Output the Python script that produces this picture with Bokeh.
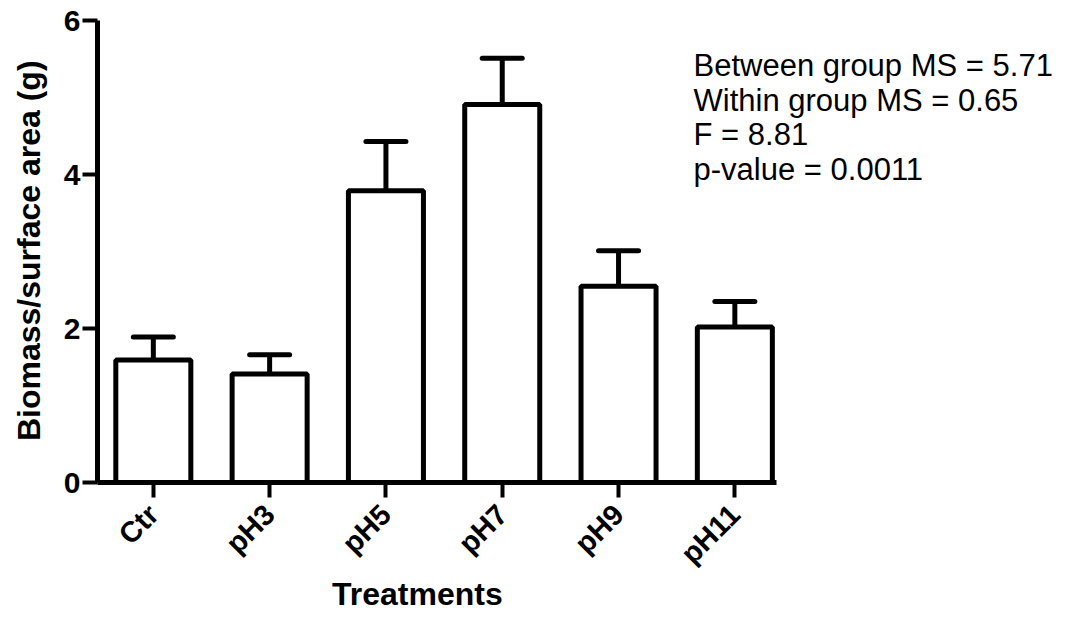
import math
from bokeh.plotting import figure
from bokeh.models import Range1d, FixedTicker, Whisker, TeeHead, ColumnDataSource, Label
from bokeh.embed import file_html
from bokeh.resources import INLINE

# ---- data ----
categories = ["Ctr", "pH3", "pH5", "pH7", "pH9", "pH11"]
means = [1.59, 1.41, 3.79, 4.91, 2.55, 2.02]
errors = [0.30, 0.25, 0.64, 0.60, 0.46, 0.33]
y_ticks = [0, 2, 4, 6]
stats_lines = ["Between group MS = 5.71", "Within group MS = 0.65", "F = 8.81", "p-value = 0.0011"]
x_title = "Treatments"
y_title = "Biomass/surface area (g)"

FONT = "Liberation Sans"

positions = list(range(len(categories)))
upper = [m + e for m, e in zip(means, errors)]
src = ColumnDataSource(dict(x=positions, top=means, upper=upper))

# axis extents (axis lines limited with bounds) and the wider view around them
x_axis_start, x_axis_end = -0.48, 5.36
y_axis_start, y_axis_end = 0, 6
x_view = (-1.314, 7.757)
y_view = (-1.688, 6.26)

p = figure(width=1055, height=612, output_backend="svg", toolbar_location=None,
           x_range=Range1d(*x_view), y_range=Range1d(*y_view), min_border=0)
p.outline_line_color = None
p.xgrid.visible = False
p.ygrid.visible = False

p.vbar(x="x", top="top", bottom=0, width=0.645, source=src,
       fill_color="white", line_color="black", line_width=5)

wh = Whisker(base="x", lower="top", upper="upper", source=src, dimension="height",
             lower_head=None,
             upper_head=TeeHead(size=40, line_width=5, line_color="black", line_cap="round"),
             line_width=5, line_color="black")
p.add_layout(wh)

for ax in (p.xaxis[0], p.yaxis[0]):
    ax.axis_line_width = 5
    ax.axis_line_color = "black"
    ax.major_tick_line_width = 4
    ax.major_tick_line_color = "black"
    ax.major_tick_in = 0
    ax.major_tick_out = 15
    ax.minor_tick_line_color = None
    ax.major_label_text_font = FONT
    ax.major_label_text_font_style = "bold"
    ax.major_label_text_font_size = "29px"
    ax.major_label_text_color = "black"
    ax.major_label_standoff = 2

p.yaxis.major_label_text_font_size = "30px"

p.xaxis.fixed_location = y_axis_start
p.xaxis.bounds = (x_axis_start, x_axis_end)
p.xaxis.ticker = FixedTicker(ticks=positions)
p.xaxis.major_label_overrides = {i: c for i, c in enumerate(categories)}
p.xaxis.major_label_orientation = math.pi / 4
p.xaxis.major_label_standoff = 12

p.yaxis.fixed_location = x_axis_start
p.yaxis.bounds = (y_axis_start, y_axis_end)
p.yaxis.ticker = FixedTicker(ticks=y_ticks)

# axis titles
p.add_layout(Label(x=-1.073, y=3.01, text=y_title, angle=math.pi / 2,
                   text_align="center", text_baseline="middle", text_font=FONT,
                   text_font_style="bold", text_font_size="32px", text_color="black"))
p.add_layout(Label(x=2.27, y=-1.446, text=x_title, text_align="center",
                   text_baseline="middle", text_font=FONT, text_font_style="bold",
                   text_font_size="32px", text_color="black"))

# ANOVA summary
y0 = 5.41
step = 0.447
for i, line in enumerate(stats_lines):
    p.add_layout(Label(x=4.645, y=y0 - i * step, text=line, text_align="left",
                       text_baseline="middle", text_font=FONT,
                       text_font_size="31px", text_color="black"))

open("out.html", "w").write(file_html(p, INLINE))
